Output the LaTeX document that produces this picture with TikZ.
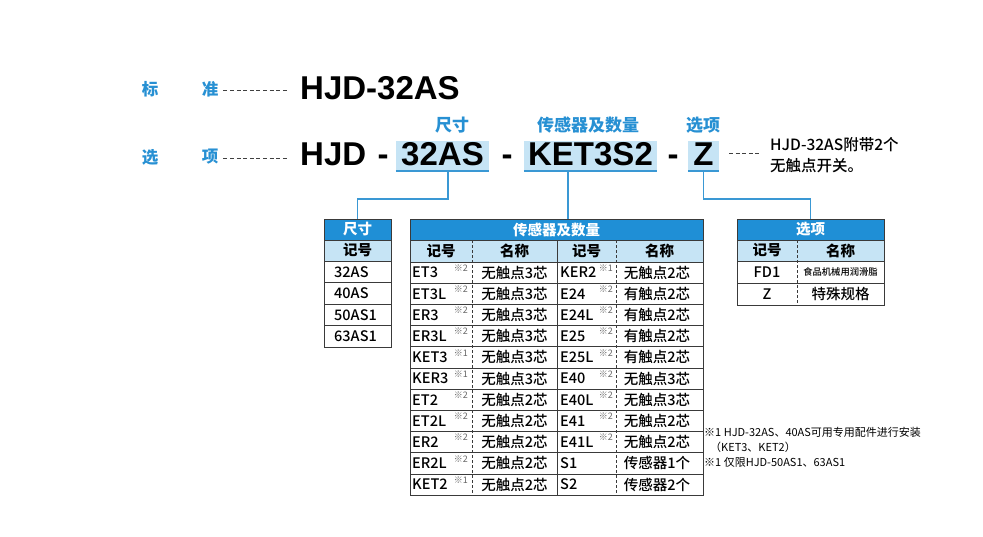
\documentclass[tikz,border=0pt]{standalone}
\usepackage{fontspec}
\setmainfont{Liberation Sans}
\newfontfamily\cjk{Noto Sans CJK SC}
\newfontfamily\cjkm{Noto Sans CJK SC Medium}
\definecolor{hblue}{HTML}{1F8FD6}
\definecolor{lblue}{HTML}{C6E4F5}
\definecolor{tblue}{HTML}{2790D3}
\definecolor{lineblue}{HTML}{3A98D4}
\definecolor{gridc}{HTML}{3A3A3A}
\begin{document}
\begin{tikzpicture}[x=1pt,y=-1pt,
  lab/.style={font=\cjk\bfseries\fontsize{16.5}{16.5}\selectfont, text=tblue, inner sep=0pt},
  toplab/.style={font=\cjk\bfseries\fontsize{17}{17}\selectfont, text=tblue, inner sep=0pt},
  big/.style={font=\bfseries\fontsize{33}{33}\selectfont, inner sep=0pt},
  hl/.style={fill=lblue, inner sep=0pt},
  conn/.style={draw=lineblue, line width=1.4pt},
  lead/.style={draw=black!75, line width=0.8pt, dash pattern=on 4pt off 2.6pt},
  tt/.style={font=\cjkm\fontsize{14.5}{14.5}\selectfont, inner sep=0pt},
  ttb/.style={font=\cjk\bfseries\fontsize{14.5}{14.5}\selectfont, inner sep=0pt},
  tth/.style={font=\cjk\bfseries\fontsize{14.5}{14.5}\selectfont, inner sep=0pt, text=white},
  tiny/.style={font=\cjkm\fontsize{9.3}{9.3}\selectfont, inner sep=0pt},
  mk/.style={font=\cjk\fontsize{9}{9}\selectfont, text=black!60, inner sep=0pt},
  note/.style={font=\cjk\fontsize{11}{11}\selectfont, inner sep=0pt},
  side/.style={font=\cjkm\fontsize{15.5}{15.5}\selectfont, inner sep=0pt},
  hdr/.style={fill=hblue, draw=gridc, line width=0.9pt, inner sep=0pt},
  grid/.style={draw=gridc, line width=0.9pt},
  dgrid/.style={draw=gridc, line width=0.9pt, dash pattern=on 3pt off 2pt}]
\useasboundingbox (0,0) rectangle (983,536);

% ---- left labels
\node[lab] (l1a) at (150,89) {标};
\node[lab] (l1b) at (210,89) {准};
\node[lab] (l2a) at (150,157) {选};
\node[lab] (l2b) at (210,157) {项};
\draw[lead] (l1b.east) ++(5,1) coordinate (d1s) -- (288,90) coordinate (d1e);
\draw[lead] (l2b.east) ++(5,1) coordinate (d2s) -- (288,158) coordinate (d2e);

% ---- standard
\node[big, anchor=base west] (std) at (300,99) {HJD-32AS};

% ---- option code
\node[big, anchor=base west] (hjd) at (300,165) {HJD};
\node[big, anchor=base] (m1) at (383,165) {-};
\node[hl, minimum width=93pt, minimum height=30pt] (hb1) at (442.5,156) {};
\draw[lineblue, line width=1.6pt] (hb1.south west) -- (hb1.south east);
\node[big, anchor=base] (t1) at (442.5,165) {32AS};
\node[big, anchor=base] (m2) at (507,165) {-};
\node[hl, minimum width=133pt, minimum height=30pt] (hb2) at (590.5,156) {};
\draw[lineblue, line width=1.6pt] (hb2.south west) -- (hb2.south east);
\node[big, anchor=base] (t2) at (590.5,165) {KET3S2};
\node[big, anchor=base] (m3) at (673,165) {-};
\node[hl, minimum width=31pt, minimum height=30pt] (hb3) at (703.5,156) {};
\draw[lineblue, line width=1.6pt] (hb3.south west) -- (hb3.south east);
\node[big, anchor=base] (t3) at (703.5,165) {Z};

\node[toplab] (c1) at (452,125) {尺寸};
\node[toplab] (c2) at (588,125) {传感器及数量};
\node[toplab] (c3) at (703,125) {选项};

\draw[lead] (729,153) coordinate (d3s) -- (761,153) coordinate (d3e);
\node[side, anchor=west] (s1) at (770,145) {HJD-32AS附带2个};
\node[side, anchor=west] (s2) at (770,166) {无触点开关。};

% ---- table headers
\node[hdr, minimum width=67pt, minimum height=21pt] (tA) at (357.5,229.5) {};
\node[tth] at (tA) {尺寸};
\node[hdr, minimum width=293pt, minimum height=21pt] (tB) at (556.5,229.5) {};
\node[tth] at (tB) {传感器及数量};
\node[hdr, minimum width=147pt, minimum height=21pt] (tC) at (810.5,229.5) {};
\node[tth] at (tC) {选项};

% ---- connectors
\coordinate (ybend) at (0,199);
\coordinate (xa) at (448,0);
\coordinate (xb) at (568,0);
\draw[conn] (hb1.south -| xa) -- (xa |- ybend) -| (tA.north);
\draw[conn] (hb2.south -| xb) -- (tB.north -| xb);
\draw[conn] (hb3.south) -- (hb3.south |- ybend) -| (tC.north);

% ---- table A : size
\fill[lblue] (324,240) rectangle (391,261);
\node[ttb] (aH) at (357.5,250.5) {记号};
\foreach \v [count=\i from 0] in {32AS,40AS,50AS1,63AS1}{
  \node[tt, anchor=west] (a\i) at (334,{261+21.5*\i+10.75}) {\v};
  \draw[grid] (324,{261+21.5*\i}) -- (391,{261+21.5*\i});
}
\draw[grid] (324,240) rectangle (391,347);

% ---- table B : sensors
\fill[lblue] (410,240) rectangle (703,262);
\node[ttb] (bH1) at (441,251) {记号};
\node[ttb] (bH2) at (514.5,251) {名称};
\node[ttb] (bH3) at (586.5,251) {记号};
\node[ttb] (bH4) at (659.5,251) {名称};
\foreach \ca/\ma/\na/\cb/\mb/\nb [count=\i from 0] in {
  ET3/2/无触点3芯/KER2/1/无触点2芯,
  ET3L/2/无触点3芯/E24/2/有触点2芯,
  ER3/2/无触点3芯/E24L/2/有触点2芯,
  ER3L/2/无触点3芯/E25/2/有触点2芯,
  KET3/1/无触点3芯/E25L/2/有触点2芯,
  KER3/1/无触点3芯/E40/2/无触点3芯,
  ET2/2/无触点2芯/E40L/2/无触点3芯,
  ET2L/2/无触点2芯/E41/2/无触点2芯,
  ER2/2/无触点2芯/E41L/2/无触点2芯,
  ER2L/2/无触点2芯/S1/0/传感器1个,
  KET2/1/无触点2芯/S2/0/传感器2个}{
  \pgfmathsetmacro\yt{262+21.2*\i}
  \draw[grid] (410,\yt) -- (703,\yt);
  \node[tt, anchor=west] (b\i a) at (412,{\yt+10.6}) {\ca};
  \node[mk, anchor=north east] (b\i m) at (468,{\yt+2.5}) {※\ma};
  \node[tt] (b\i b) at (514.5,{\yt+10.6}) {\na};
  \node[tt, anchor=west] (b\i c) at (560,{\yt+10.6}) {\cb};
  \ifnum\mb>0 \node[mk, anchor=north east] (b\i n) at (613,{\yt+2.5}) {※\mb};\fi
  \node[tt] (b\i d) at (657,{\yt+10.6}) {\nb};
}
\draw[dgrid] (472,240) -- (472,495);
\draw[dgrid] (616,240) -- (616,495);
\draw[grid] (557,240) -- (557,495);
\draw[grid] (410,240) rectangle (703,495);

% ---- table C : options
\fill[lblue] (737,240) rectangle (884,261);
\node[ttb] (cH1) at (767,250.5) {记号};
\node[ttb] (cH2) at (840.5,250.5) {名称};
\draw[grid] (737,261) -- (884,261);
\draw[grid] (737,283) -- (884,283);
\node[tt] (cr1) at (767,272) {FD1};
\node[tiny] (cr2) at (840.5,272) {食品机械用润滑脂};
\node[tt] (cr3) at (767,294) {Z};
\node[tt] (cr4) at (840.5,294) {特殊规格};
\draw[dgrid] (797,240) -- (797,305);
\draw[grid] (737,240) rectangle (884,305);

% ---- notes
\node[note, anchor=west] (n1) at (704,432) {※1 HJD-32AS、40AS可用专用配件进行安装};
\node[note, anchor=west] (n2) at (710,447) {（KET3、KET2）};
\node[note, anchor=west] (n3) at (704,462) {※1 仅限HJD-50AS1、63AS1};
\end{tikzpicture}
\end{document}
